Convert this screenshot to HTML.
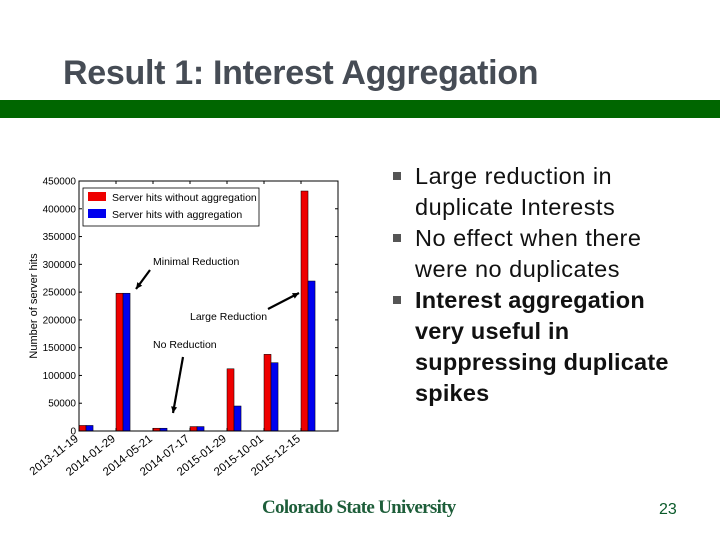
<!DOCTYPE html>
<html><head><meta charset="utf-8"><style>
body{margin:0;width:720px;height:540px;background:#fff;position:relative;overflow:hidden;font-family:"Liberation Sans",sans-serif}
#title{position:absolute;left:63px;top:54px;font-size:34px;font-weight:bold;color:#464c55;letter-spacing:-0.3px;white-space:nowrap}
#bar{position:absolute;left:0;top:100px;width:720px;height:18px;background:#006600}
#bullets{position:absolute;left:393px;top:161px;width:320px;font-size:23.5px;line-height:31px;color:#111;letter-spacing:0.5px;white-space:nowrap}
.b{position:relative;padding-left:22px}
.b:before{content:"";position:absolute;left:0;top:11px;width:8px;height:8px;background:#555}
#logo{position:absolute;left:262px;top:497px;font-family:"Liberation Serif",serif;font-weight:bold;font-size:19px;color:#1e5e3a;letter-spacing:-0.7px;white-space:nowrap}
#num{position:absolute;left:659px;top:501px;font-size:16px;color:#0a5a2a}
svg{position:absolute;left:0;top:0}
</style></head><body>
<div id="title">Result 1: Interest Aggregation</div>
<div id="bar"></div>
<div id="bullets">
<div class="b">Large reduction in<br>duplicate Interests</div>
<div class="b">No effect when there<br>were no duplicates</div>
<div class="b" style="font-weight:bold;letter-spacing:0.2px">Interest aggregation<br>very useful in<br>suppressing duplicate<br>spikes</div>
</div>
<div id="logo">Colorado State University</div>
<div id="num">23</div>
<svg id="chart" width="720" height="540"></svg>
<script>
const categories=["2013-11-19","2014-01-29","2014-05-21","2014-07-17","2015-01-29","2015-10-01","2015-12-15"];
const withoutAgg=[10000,248000,5000,8000,112000,138000,432000];
const withAgg=[10000,248000,5000,8000,45000,123000,270000];
const yTicks=[0,50000,100000,150000,200000,250000,300000,350000,400000,450000];
const svg=document.getElementById('chart');const NS="http://www.w3.org/2000/svg";
const L=79,R=338,T=181,B=431,ymax=450000,n=7;
const xs=i=>L+(R-L)*i/n, ys=v=>B-(B-T)*v/ymax;
function mk(t,a,p){const e=document.createElementNS(NS,t);for(const k in a)e.setAttribute(k,a[k]);(p||svg).appendChild(e);return e;}
const bw=(R-L)/n*0.19;
withoutAgg.forEach((v,i)=>{const r=mk('rect',{x:xs(i),y:ys(v),width:bw,height:B-ys(v),fill:'#ee0000',stroke:'#000','stroke-width':0.5});

});
withAgg.forEach((v,i)=>{const r=mk('rect',{x:xs(i)+bw,y:ys(v),width:bw,height:B-ys(v),fill:'#0000ee',stroke:'#000','stroke-width':0.5});

});
mk('rect',{x:L,y:T,width:R-L,height:B-T,fill:'none',stroke:'#000','stroke-width':1});
yTicks.forEach(v=>{const y=ys(v);mk('line',{x1:L,x2:L+3,y1:y,y2:y,stroke:'#000'});mk('line',{x1:R-3,x2:R,y1:y,y2:y,stroke:'#000'});
const t=mk('text',{x:L-3,y:y+3.5,'text-anchor':'end','font-size':10,fill:'#000'});t.textContent=v;

});
categories.forEach((c,i)=>{const x=xs(i);mk('line',{x1:x,x2:x,y1:B,y2:B-3,stroke:'#000'});mk('line',{x1:x,x2:x,y1:T,y2:T+3,stroke:'#000'});
const t=mk('text',{x:x,y:B+9,'text-anchor':'end','font-size':11.5,fill:'#000',transform:`rotate(-38 ${x} ${B+9})`});t.textContent=c;

});
const yl=mk('text',{x:37,y:306,'text-anchor':'middle','font-size':11,transform:'rotate(-90 37 306)'});yl.textContent='Number of server hits';


const lg=mk('g',{});
mk('rect',{x:83,y:188,width:176,height:38,fill:'#fff',stroke:'#000','stroke-width':0.8},lg);
mk('rect',{x:88,y:192,width:18,height:9,fill:'#ee0000'},lg);mk('rect',{x:88,y:209,width:18,height:9,fill:'#0000ee'},lg);
let t1=mk('text',{x:112,y:201,'font-size':10.5},lg);t1.textContent='Server hits without aggregation';
let t2=mk('text',{x:112,y:218,'font-size':10.5},lg);t2.textContent='Server hits with aggregation';
function ann(txt,tx,ty,x1,y1,x2,y2,nm){const t=mk('text',{x:tx,y:ty,'font-size':10.5});t.textContent=txt;


mk('line',{x1:x1,y1:y1,x2:x2,y2:y2,stroke:'#000','stroke-width':2.2});
const a=Math.atan2(y2-y1,x2-x1),s=7;mk('polygon',{points:`${x2},${y2} ${x2-s*Math.cos(a-0.45)},${y2-s*Math.sin(a-0.45)} ${x2-s*Math.cos(a+0.45)},${y2-s*Math.sin(a+0.45)}`,fill:'#000'});}
ann('Minimal Reduction',153,265,150,270,136,289,'annotation-minimal');
ann('Large Reduction',190,320,268,309,299,293,'annotation-large');
ann('No Reduction',153,348,183,357,173,413,'annotation-none');
</script>
</body></html>
